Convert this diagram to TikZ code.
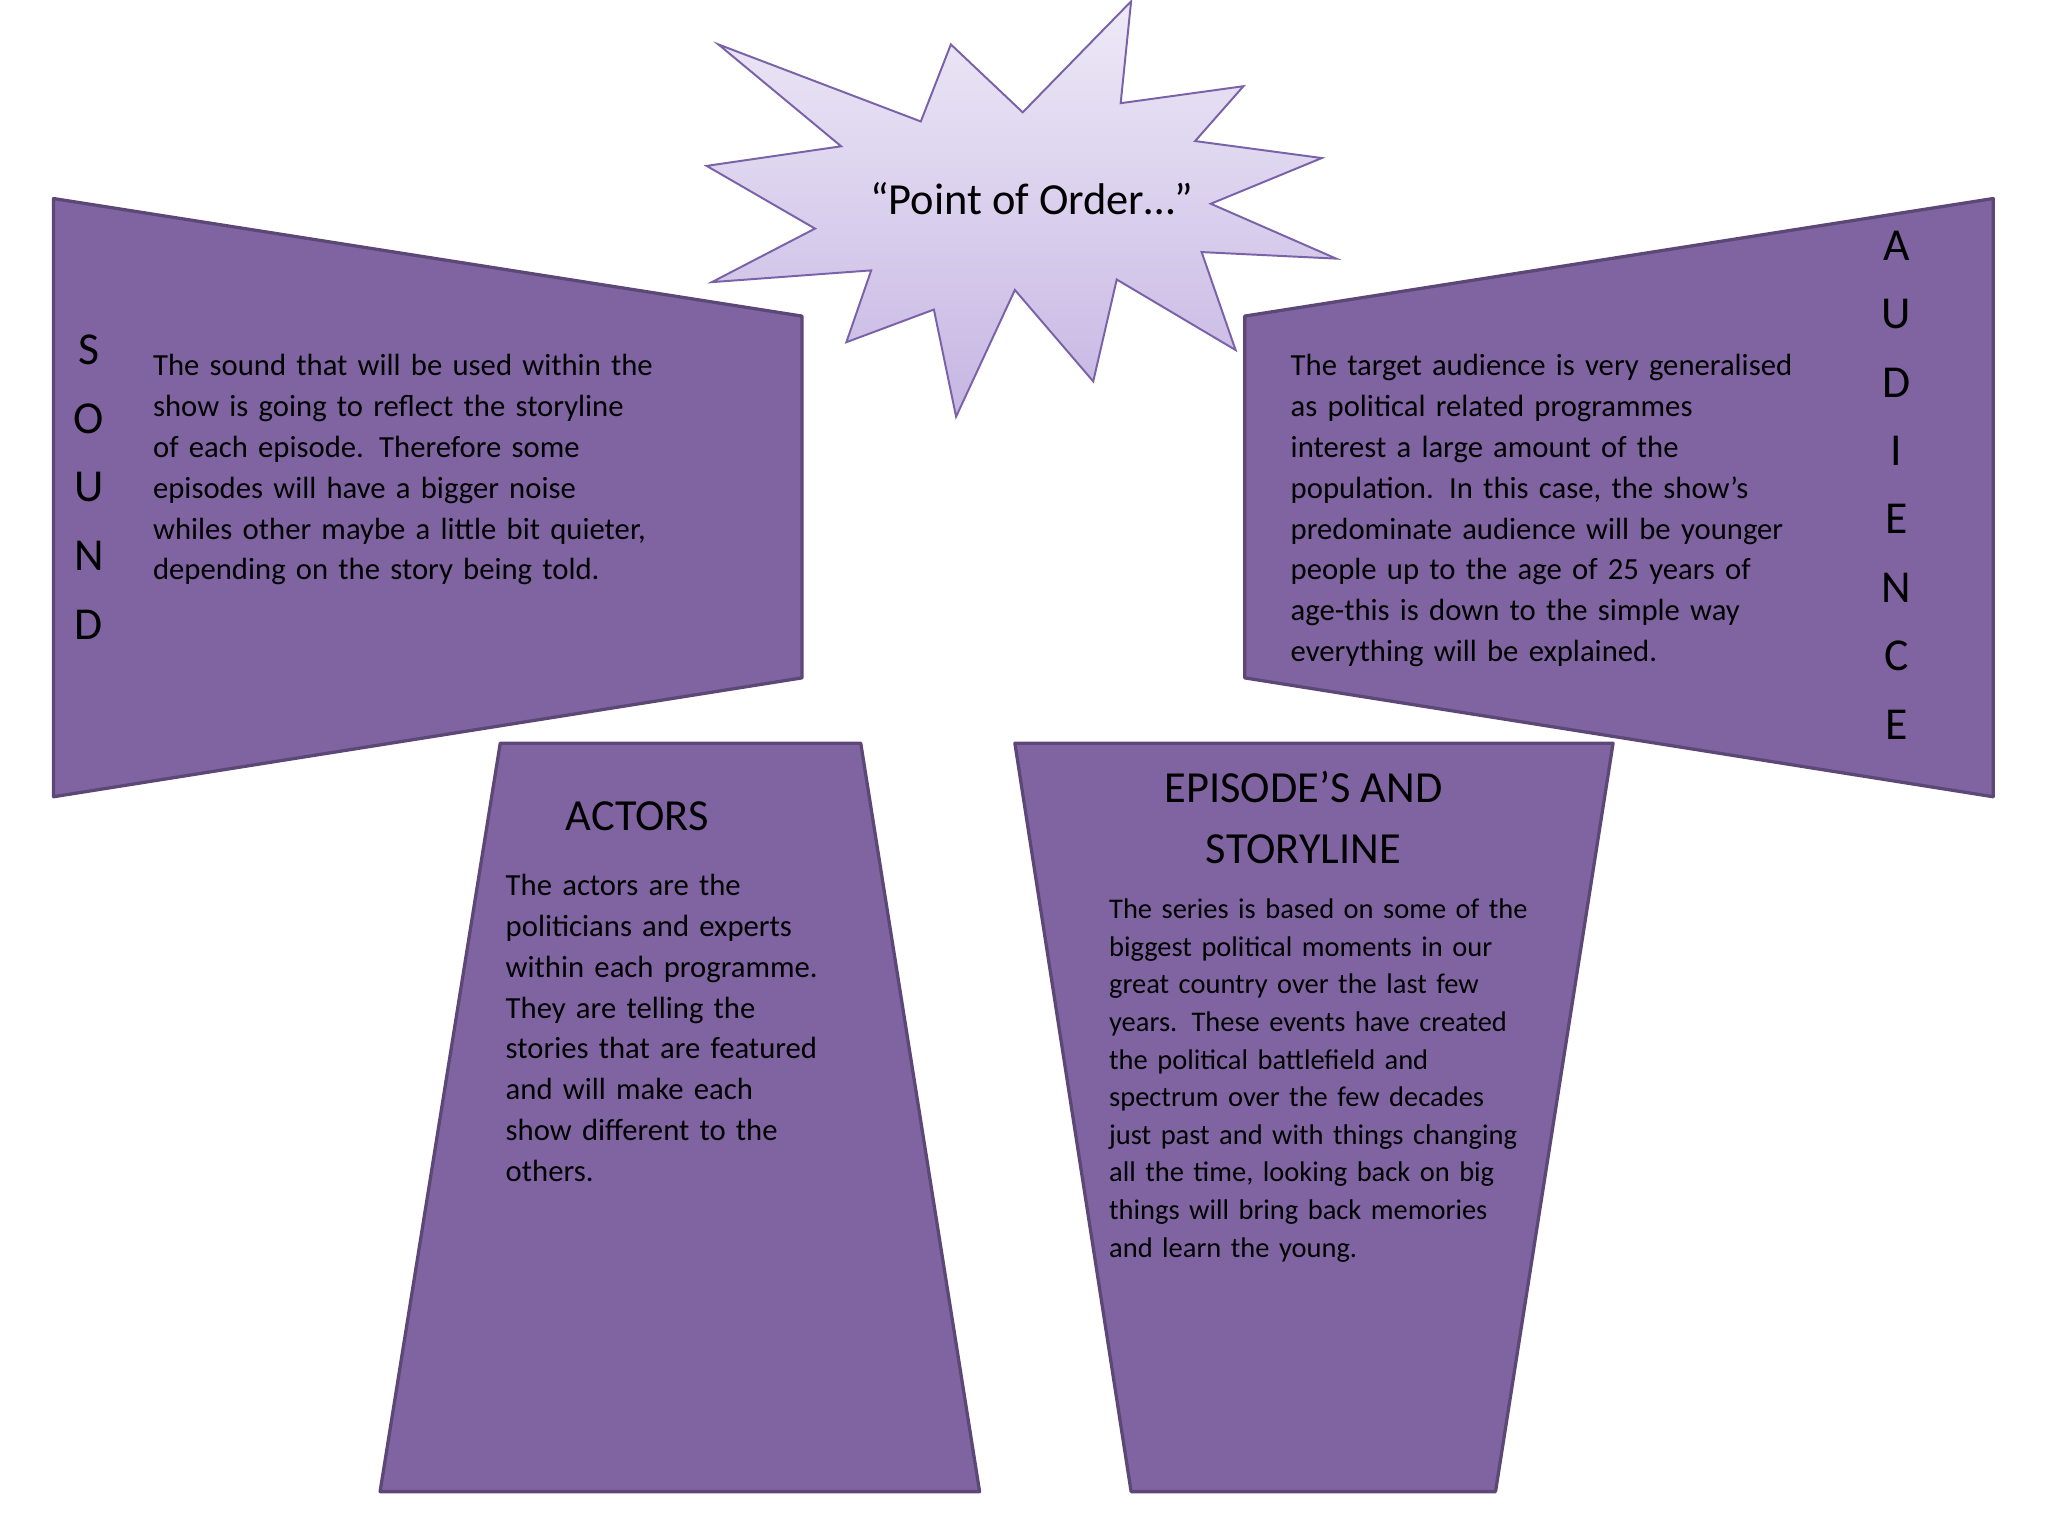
\documentclass[tikz,border=0pt]{standalone}
\usepackage{fontspec}
\setmainfont{Carlito}
\begin{document}
\begin{tikzpicture}[x=1pt,y=-1pt,
  panel/.style={fill=panelfill,draw=paneledge,line width=2.5pt,line join=round},
  body/.style={anchor=north west,inner sep=0pt,align=left,font=\fontsize{23.5}{31.3}\selectfont},
  vlet/.style={inner sep=0pt,font=\fontsize{35}{35}\selectfont}]
\definecolor{panelfill}{HTML}{8064A2}
\definecolor{paneledge}{HTML}{5C4776}
\definecolor{startop}{HTML}{EEE9F7}
\definecolor{starbot}{HTML}{C6B6E3}
\definecolor{staredge}{HTML}{7A62A8}
\useasboundingbox (0,0) rectangle (1568,1176);
\fill[white] (0,0) rectangle (1568,1176);
% panels
\draw[panel] (41,152) -- (614,242) -- (614,519) -- (41,610) -- cycle;
\draw[panel] (953,242) -- (1526,152) -- (1526,610) -- (953,519) -- cycle;
\draw[panel] (383,569) -- (659,569) -- (750,1142) -- (291,1142) -- cycle;
\draw[panel] (777,569) -- (1235,569) -- (1145,1142) -- (866,1142) -- cycle;
% star
\draw[top color=startop,bottom color=starbot,draw=staredge,line width=1.5pt,line join=miter]
 (550,34) -- (705,93) -- (728,34) -- (783,86) -- (866,1) -- (858,79) -- (952,66) -- (915,108)
 -- (1012,121) -- (927,156) -- (1023,198) -- (920,193) -- (946,268) -- (855,214) -- (837,292)
 -- (777,222) -- (732,319) -- (715,237) -- (648,262) -- (667,207) -- (545,216) -- (624,175)
 -- (541,127) -- (644,112) -- cycle;
\node[inner sep=0pt,font=\fontsize{34}{34}\selectfont] (title) at (790,152) {“Point of Order…”};
% SOUND
\foreach \l [count=\i] in {S,O,U,N,D}
  \node[vlet] (s\i) at (68,{268+52.5*(\i-1)}) {\l};
\node[body,text width=430pt] (soundtext) at (117,271) {The sound that will be used within the\\show is going to reflect the storyline\\of each episode. Therefore some\\episodes will have a bigger noise\\whiles other maybe a little bit quieter,\\depending on the story being told.};
% AUDIENCE
\foreach \l [count=\i] in {A,U,D,I,E,N,C,E}
  \node[vlet] (a\i) at (1452,{188+52.4*(\i-1)}) {\l};
\node[body,text width=430pt] (audtext) at (988,271) {The target audience is very generalised\\as political related programmes\\interest a large amount of the\\population. In this case, the show’s\\predominate audience will be younger\\people up to the age of 25 years of\\age-this is down to the simple way\\everything will be explained.};
% ACTORS
\node[inner sep=0pt,font=\fontsize{34}{34}\selectfont] (acttitle) at (488,625) {ACTORS};
\node[body,text width=280pt] (acttext) at (387,669) {The actors are the\\politicians and experts\\within each programme.\\They are telling the\\stories that are featured\\and will make each\\show different to the\\others.};
% EPISODES
\node[inner sep=0pt,align=center,font=\fontsize{34}{47}\selectfont] (eptitle) at (998,626) {EPISODE’S AND\\STORYLINE};
\node[body,text width=350pt,font=\fontsize{21.8}{28.8}\selectfont] (eptext) at (849,688) {The series is based on some of the\\biggest political moments in our\\great country over the last few\\years. These events have created\\the political battlefield and\\spectrum over the few decades\\just past and with things changing\\all the time, looking back on big\\things will bring back memories\\and learn the young.};
\end{tikzpicture}
\end{document}
